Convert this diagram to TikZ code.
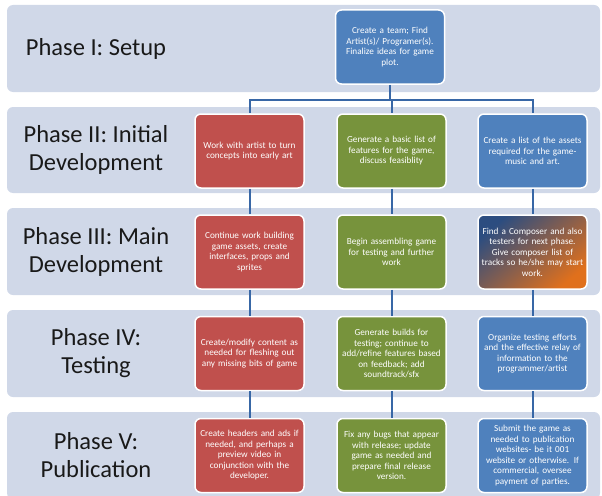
\documentclass[tikz,border=0pt]{standalone}
\usepackage{fontspec}
\setmainfont{Carlito}
\usepackage{xcolor}

\definecolor{bandfill}{HTML}{D0D8E8}
\definecolor{redbox}{HTML}{C0504D}
\definecolor{greenbox}{HTML}{77933C}
\definecolor{bluebox}{HTML}{4F81BD}
\definecolor{linkblue}{HTML}{3867A6}
\definecolor{deepblue}{HTML}{2C4D80}
\definecolor{lightblue}{HTML}{7FA9DC}
\definecolor{orangebox}{HTML}{E0701C}

\begin{document}
\begin{tikzpicture}[x=1pt,y=-1pt,
  band/.style={fill=bandfill, rounded corners=6pt},
  phase/.style={align=center, text=black!90, font=\fontsize{24.5}{28}\selectfont},
  task/.style={draw=white, line width=1.5pt, rounded corners=6pt, minimum width=109pt,
    minimum height=74pt, text width=104pt, align=center, inner sep=0pt, text=white,
    font=\fontsize{9.2}{10.5}\selectfont},
  link/.style={linkblue, line width=2pt}]
\useasboundingbox (0,0) rectangle (602,495);

% phase bands
\fill[band] (7,5) rectangle (600,92);
\fill[band] (7,107) rectangle (600,193);
\fill[band] (7,208) rectangle (600,295);
\fill[band] (7,310) rectangle (600,397);
\fill[band] (7,412) rectangle (600,499);

\node[phase] (p1) at (96,48.5) {Phase I: Setup};
\node[phase] (p2) at (96,150) {Phase II: Initial\\Development};
\node[phase] (p3) at (96,251.5) {Phase III: Main\\Development};
\node[phase] (p4) at (96,353.5) {Phase IV:\\Testing};
\node[phase] (p5) at (96,455) {Phase V:\\Publication};

% setup
\node[task, fill=bluebox] (team) at (390,47) {Create a team; Find\\Artist(s)/ Programer(s).\\Finalize ideas for game\\plot.};

% initial development
\node[task, fill=redbox] (art2) at (249.5,151) {Work with artist to turn\\concepts into early art};
\node[task, fill=greenbox] (feat2) at (391.5,151) {Generate a basic list of\\features for the game,\\discuss feasiblity};
\node[task, fill=bluebox] (asset2) at (532.5,151) {Create a list of the assets\\required for the game-\\music and art.};

% main development
\node[task, fill=redbox] (art3) at (249.5,252) {Continue work building\\game assets, create\\interfaces, props and\\sprites};
\node[task, fill=greenbox] (feat3) at (391.5,252) {Begin assembling game\\for testing and further\\work};
\node[task, shading=axis, top color=deepblue, middle color=lightblue, bottom color=orangebox,
  shading angle=40] (asset3) at (532.5,252) {Find a Composer and also\\testers for next phase.\\Give composer list of\\tracks so he/she may start\\work.};

% testing
\node[task, fill=redbox] (art4) at (249.5,353.5) {Create/modify content as\\needed for fleshing out\\any missing bits of game};
\node[task, fill=greenbox] (feat4) at (391.5,353.5) {Generate builds for\\testing; continue to\\add/refine features based\\on feedback; add\\soundtrack/sfx};
\node[task, fill=bluebox] (asset4) at (532.5,353.5) {Organize testing efforts\\and the effective relay of\\information to the\\programmer/artist};

% publication
\node[task, fill=redbox] (art5) at (249.5,455.5) {Create headers and ads if\\needed, and perhaps a\\preview video in\\conjunction with the\\developer.};
\node[task, fill=greenbox] (feat5) at (391.5,455.5) {Fix any bugs that appear\\with release; update\\game as needed and\\prepare final release\\version.};
\node[task, fill=bluebox] (asset5) at (532.5,455.5) {Submit the game as\\needed to publication\\websites- be it 001\\website or otherwise. If\\commercial, oversee\\payment of parties.};

% connectors
\coordinate (bus) at (391.5,100);
\draw[link] (team.south) |- (bus) -- (feat2.north);
\draw[link] (bus) -| (art2.north);
\draw[link] (bus) -| (asset2.north);
\draw[link] (art2) -- (art3);
\draw[link] (art3) -- (art4);
\draw[link] (art4) -- (art5);
\draw[link] (feat2) -- (feat3);
\draw[link] (feat3) -- (feat4);
\draw[link] (feat4) -- (feat5);
\draw[link] (asset2) -- (asset3);
\draw[link] (asset3) -- (asset4);
\draw[link] (asset4) -- (asset5);

\end{tikzpicture}
\end{document}
